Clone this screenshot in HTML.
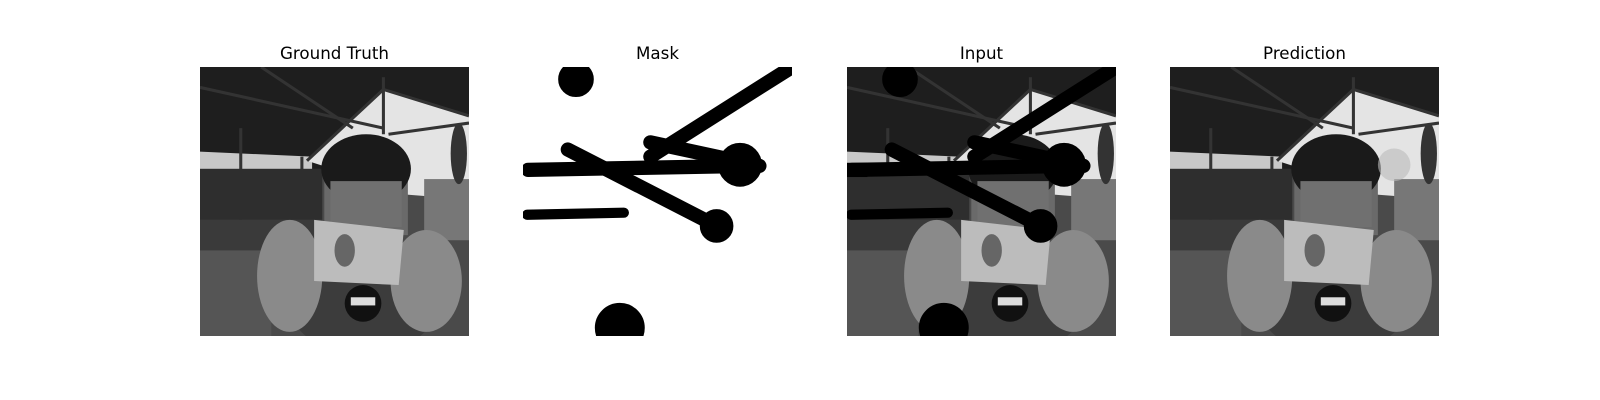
<!DOCTYPE html>
<html><head><meta charset="utf-8"><style>
body{margin:0;width:1600px;height:400px;background:#fff;overflow:hidden;font-family:"DejaVu Sans","Liberation Sans",sans-serif}
.t{position:absolute;top:43px;width:269px;text-align:center;font-size:16.7px;color:#000}
svg.p{position:absolute;top:67px}
</style></head><body>
<svg width="0" height="0" style="position:absolute">
<defs>
<symbol id="photo" viewBox="0 0 264 264">
<rect width="264" height="264" fill="#4a4a4a"/>
<rect width="264" height="100" fill="#1e1e1e"/>
<polygon points="0,83 110,88 110,100 0,100" fill="#c8c8c8"/>
<polygon points="180,22 264,48 264,130 200,125 130,100 105,92" fill="#e4e4e4"/>
<g stroke="#333" stroke-width="3" fill="none">
<line x1="0" y1="20" x2="180" y2="60"/><line x1="60" y1="0" x2="150" y2="60"/>
<line x1="180" y1="22" x2="105" y2="92"/><line x1="180" y1="22" x2="264" y2="48"/>
<line x1="180" y1="10" x2="180" y2="66"/><line x1="185" y1="66" x2="264" y2="55"/>
<line x1="40" y1="60" x2="40" y2="150"/><line x1="100" y1="88" x2="100" y2="140"/>
</g>
<rect x="0" y="100" width="120" height="50" fill="#2e2e2e"/>
<rect x="0" y="150" width="120" height="30" fill="#3a3a3a"/>
<rect x="0" y="180" width="70" height="84" fill="#555"/>
<rect x="220" y="110" width="44" height="60" fill="#777"/>
<ellipse cx="254" cy="85" rx="8" ry="30" fill="#333"/>
<rect x="122" y="100" width="82" height="65" fill="#6a6a6a"/>
<ellipse cx="163" cy="100" rx="44" ry="34" fill="#1a1a1a"/>
<rect x="128" y="112" width="70" height="45" fill="#707070"/>
<ellipse cx="160" cy="240" rx="70" ry="40" fill="#3c3c3c"/>
<ellipse cx="88" cy="205" rx="32" ry="55" fill="#8a8a8a"/>
<ellipse cx="222" cy="210" rx="35" ry="50" fill="#8a8a8a"/>
<polygon points="112,150 200,160 195,214 112,210" fill="#bcbcbc"/>
<ellipse cx="142" cy="180" rx="10" ry="16" fill="#666"/>
<ellipse cx="160" cy="232" rx="18" ry="18" fill="#111"/>
<rect x="148" y="226" width="24" height="8" fill="#ddd"/>
</symbol>
<g id="maskshapes">
<circle cx="52" cy="12" r="17"/>
<line x1="264" y1="0" x2="125" y2="88" stroke-width="14" stroke-linecap="round"/>
<line x1="44" y1="81" x2="190" y2="156" stroke-width="14" stroke-linecap="round"/>
<circle cx="190" cy="156" r="16"/>
<line x1="125" y1="74" x2="232" y2="97" stroke-width="14" stroke-linecap="round"/>
<circle cx="213" cy="96" r="21"/>
<line x1="5" y1="101" x2="222" y2="97" stroke-width="14" stroke-linecap="round"/>
<line x1="4" y1="145" x2="99" y2="143" stroke-width="10" stroke-linecap="round"/>
<circle cx="95" cy="256" r="24"/>
</g>
</defs>
</svg>
<div class="t" style="left:200px">Ground Truth</div>
<div class="t" style="left:523px">Mask</div>
<div class="t" style="left:847px">Input</div>
<div class="t" style="left:1170px">Prediction</div>
<svg class="p" style="left:200px" width="269" height="269" viewBox="0 0 264 264"><use href="#photo"/></svg>
<svg class="p" style="left:523px" width="269" height="269" viewBox="0 0 264 264"><rect width="264" height="264" fill="#fff"/><use href="#maskshapes" fill="#000" stroke="#000"/></svg>
<svg class="p" style="left:847px" width="269" height="269" viewBox="0 0 264 264"><use href="#photo"/><use href="#maskshapes" fill="#000" stroke="#000"/><rect x="0" y="94" width="20" height="14" fill="#000"/></svg>
<svg class="p" style="left:1170px" width="269" height="269" viewBox="0 0 264 264"><use href="#photo"/><ellipse cx="220" cy="96" rx="16" ry="16" fill="#bbb" opacity="0.6"/></svg>
</body></html>
